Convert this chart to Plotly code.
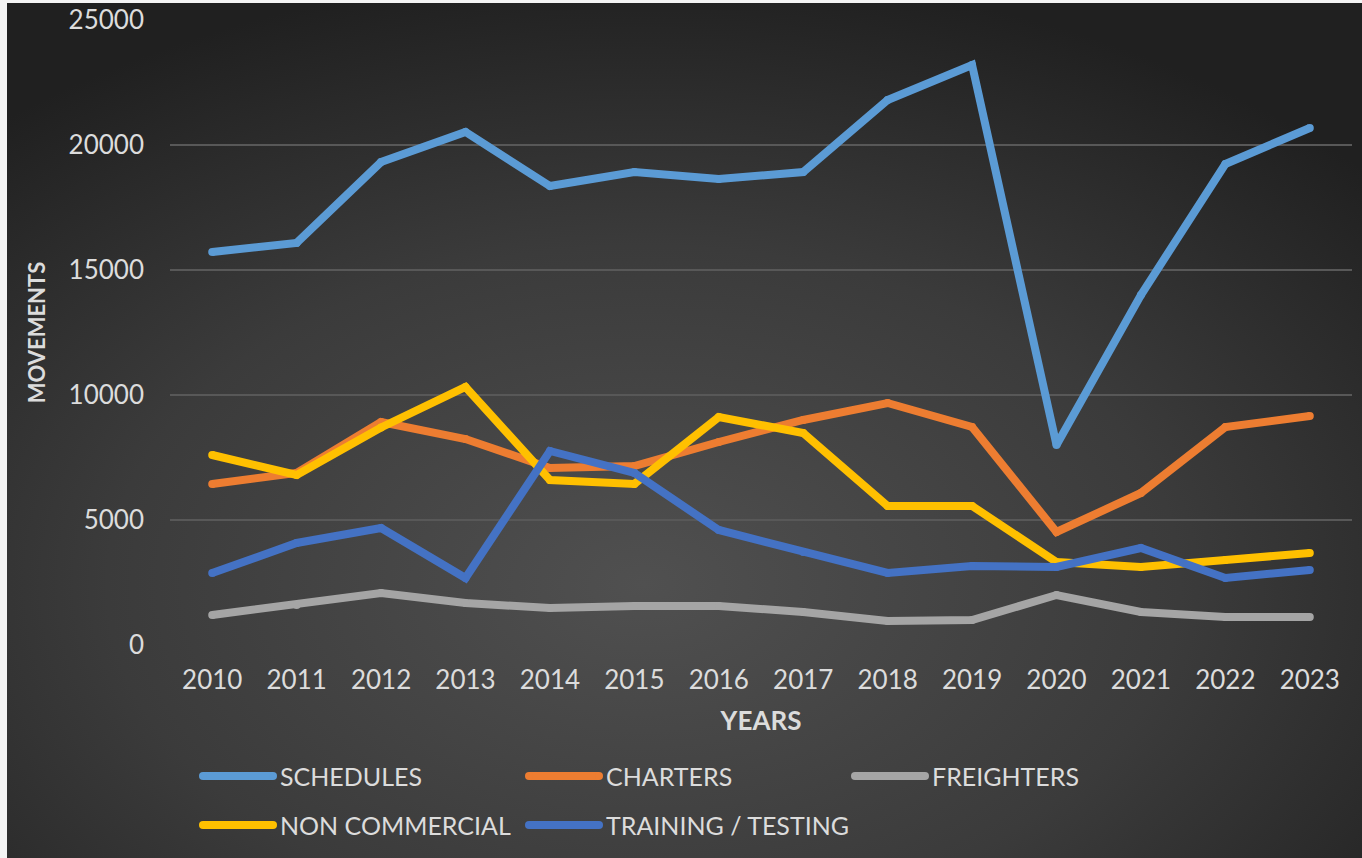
import base64
import plotly.graph_objects as go

# ---- data -------------------------------------------------------------
years = [str(y) for y in range(2010, 2024)]
schedules = [15720, 16080, 19320, 20520, 18360, 18920, 18640, 18920, 21800, 23200, 8000, 14000, 19240, 20680]
charters = [6440, 6880, 8920, 8240, 7080, 7160, 8120, 9000, 9680, 8720, 4520, 6080, 8720, 9160]
freighters = [1200, 1600, 2080, 1680, 1480, 1560, 1560, 1320, 960, 1000, 2000, 1320, 1120, 1120]
non_commercial = [7600, 6800, 8700, 10320, 6600, 6440, 9120, 8480, 5560, 5560, 3320, 3120, 3400, 3680]
training_testing = [2880, 4080, 4680, 2680, 7760, 6880, 4600, 3720, 2880, 3160, 3120, 3880, 2680, 3000]

series_names = ["SCHEDULES", "CHARTERS", "FREIGHTERS", "NON COMMERCIAL", "TRAINING / TESTING"]
series_values = [schedules, charters, freighters, non_commercial, training_testing]
series_colors = ["#5B9BD5", "#ED7D31", "#A5A5A5", "#FFC000", "#4472C4"]
y_ticks = [0, 5000, 10000, 15000, 20000, 25000]

# ---- geometry (pixels) -------------------------------------------------
W, H = 1362, 858
L, R, T, B = 170, 10, 20, 213
PW, PH = W - L - R, H - T - B

def px_x(px):
    return (px - L) / PW

def px_y(py):
    return (H - B - py) / PH

FONT = "Lato, 'Open Sans', sans-serif"
TEXT = "#DCDCDC"
LW = 8

fig = go.Figure()
for name, vals, col in zip(series_names, series_values, series_colors):
    fig.add_trace(go.Scatter(
        x=years, y=vals, name=name, mode="lines+markers",
        line=dict(color=col, width=LW),
        marker=dict(color=col, size=LW, line=dict(width=0)),
        showlegend=False,
    ))

# ---- radial background ------------------------------------------------
svg = (
    "<svg xmlns='http://www.w3.org/2000/svg' width='1355' height='855' preserveAspectRatio='none'>"
    "<defs><radialGradient id='g' cx='0.47' cy='0.68' r='0.72'>"
    "<stop offset='0' stop-color='#505050'/>"
    "<stop offset='0.55' stop-color='#3b3b3b'/>"
    "<stop offset='1' stop-color='#202020'/>"
    "</radialGradient></defs>"
    "<rect width='100%' height='100%' fill='url(#g)'/></svg>"
)
bg_src = "data:image/svg+xml;base64," + base64.b64encode(svg.encode()).decode()

images = [dict(
    source=bg_src, xref="paper", yref="paper",
    x=px_x(7), y=px_y(3), sizex=(W - 7) / PW, sizey=(H - 3) / PH,
    xanchor="left", yanchor="top", sizing="stretch", layer="below",
)]

# ---- legend (two rows, three columns) ---------------------------------
shapes, annotations = [], []
col_x = [203, 529, 855]
row_y = [776, 825]
sw_len = 70
r = LW / 2
for i, (name, col) in enumerate(zip(series_names, series_colors)):
    cx = col_x[i % 3]
    cy = row_y[i // 3]
    shapes.append(dict(type="line", xref="paper", yref="paper",
                       x0=px_x(cx), x1=px_x(cx + sw_len), y0=px_y(cy), y1=px_y(cy),
                       line=dict(color=col, width=LW)))
    for ex in (cx, cx + sw_len):
        shapes.append(dict(type="circle", xref="paper", yref="paper",
                           x0=px_x(ex - r), x1=px_x(ex + r), y0=px_y(cy + r), y1=px_y(cy - r),
                           fillcolor=col, line=dict(width=0)))
    annotations.append(dict(text=name, xref="paper", yref="paper",
                            x=px_x(cx + sw_len + 5), y=px_y(cy),
                            xanchor="left", yanchor="middle", showarrow=False,
                            font=dict(family=FONT, size=25, color=TEXT)))

fig.update_layout(
    width=W, height=H,
    margin=dict(l=L, r=R, t=T, b=B, pad=0, autoexpand=False),
    paper_bgcolor="#F4F4F4",
    plot_bgcolor="rgba(0,0,0,0)",
    images=images, shapes=shapes, annotations=annotations,
    showlegend=False,
    xaxis=dict(
        type="category", range=[-0.5, 13.5], automargin=False,
        showgrid=False, zeroline=False, showline=False, ticks="",
        tickfont=dict(family=FONT, size=26, color=TEXT),
        ticklabelstandoff=17,
        title=dict(text="<b>YEARS</b>", font=dict(family=FONT, size=26, color=TEXT), standoff=17),
    ),
    yaxis=dict(
        range=[0, 25000], tickvals=y_ticks, ticktext=[str(v) for v in y_ticks],
        automargin=False,
        showgrid=True, gridcolor="#585858", gridwidth=2,
        zeroline=False, showline=False, ticks="",
        tickfont=dict(family=FONT, size=26, color=TEXT),
        ticklabelstandoff=25,
        title=dict(text="<b>MOVEMENTS</b>", font=dict(family=FONT, size=22, color=TEXT), standoff=16),
    ),
)

fig.write_html("out.html")
